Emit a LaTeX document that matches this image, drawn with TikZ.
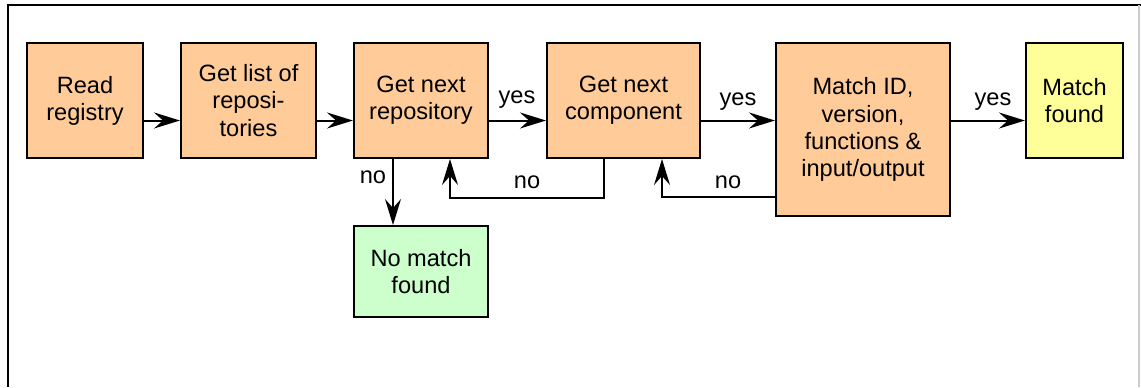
\documentclass[tikz,border=0pt]{standalone}
\usepackage{fontspec}
\setmainfont{Liberation Sans}
\usepackage{xcolor}
\usetikzlibrary{arrows.meta, positioning, calc}
\definecolor{boxOrange}{HTML}{FFCC99}
\definecolor{boxGreen}{HTML}{CCFFCC}
\definecolor{boxYellow}{HTML}{FFFF99}
\tikzset{
  stepB/.style={rectangle, draw=black, line width=1pt, align=center,
                inner sep=2pt, font=\fontsize{11.8}{13.6}\selectfont},
  orangeB/.style={stepB, fill=boxOrange},
  greenB/.style={stepB, fill=boxGreen},
  yellowB/.style={stepB, fill=boxYellow},
  flow/.style={draw=black, line width=1pt,
               -{Stealth[length=13pt, width=8pt, inset=4.5pt]}},
  lbl/.style={font=\fontsize{11.8}{13.6}\selectfont, inner sep=0pt},
}

\begin{document}
\begin{tikzpicture}[x=0.5pt, y=-0.5pt]
    \useasboundingbox (0,0) rectangle (1141,387);
    %% frame
    \draw[line width=1pt] (8,387) -- (8,5) -- (1141,5);
    \draw[line width=1pt, black!20] (1139,5) -- (1139,387);
    %% main row
    \node[orangeB, minimum width=58pt, minimum height=57.5pt] (read) at (85,100.5) {Read\\registry};
    \node[orangeB, minimum width=67.5pt, minimum height=57.5pt] (list) at (248.5,100.5) {Get list of\\reposi-\\tories};
    \node[orangeB, minimum width=67pt, minimum height=57.5pt] (repo) at (421,100.5) {Get next\\repository};
    \node[orangeB, minimum width=76.5pt, minimum height=57.5pt] (comp) at (623.5,100.5) {Get next\\component};
    \node[orangeB, minimum width=87pt, minimum height=86.5pt] (match) at (863,129.5) {Match ID,\\version,\\functions \&\\input/output};
    \node[yellowB, minimum width=48.5pt, minimum height=57.5pt] (found) at (1074.5,100.5) {Match\\found};
    \node[greenB, minimum width=67pt, minimum height=45.5pt] (nomatch) at (421,271.5) {No match\\found};
    %% forward arrows
    \draw[flow] ([yshift=-10pt]read.east) -- ([yshift=-10pt]list.west);
    \draw[flow] ([yshift=-10pt]list.east) -- ([yshift=-10pt]repo.west);
    \draw[flow] ([yshift=-10pt]repo.east) -- ([yshift=-10pt]comp.west);
    \draw[flow] ([yshift=-10pt]comp.east) -- ([yshift=-10pt]comp.east -| match.west);
    \draw[flow] ([yshift=-10pt]found.west -| match.east) -- ([yshift=-10pt]found.west);
    %% loops back
    \draw[flow] ([xshift=-14pt]repo.south) -- ([xshift=-14pt]nomatch.north);
    \draw[flow] ([xshift=-10pt]comp.south) -- ++(0,39) -| ([xshift=14.5pt]repo.south);
    \draw[flow] ([yshift=-33.75pt]match.west) -| ([xshift=19.25pt]comp.south);
    %% labels
    \node[lbl] (y1) at (517,100) {yes};
    \node[lbl] (y2) at (738,102) {yes};
    \node[lbl] (y3) at (993,102) {yes};
    \node[lbl] (n1) at (373,177) {no};
    \node[lbl] (n2) at (527,182) {no};
    \node[lbl] (n3) at (728,182) {no};
\end{tikzpicture}
\end{document}
